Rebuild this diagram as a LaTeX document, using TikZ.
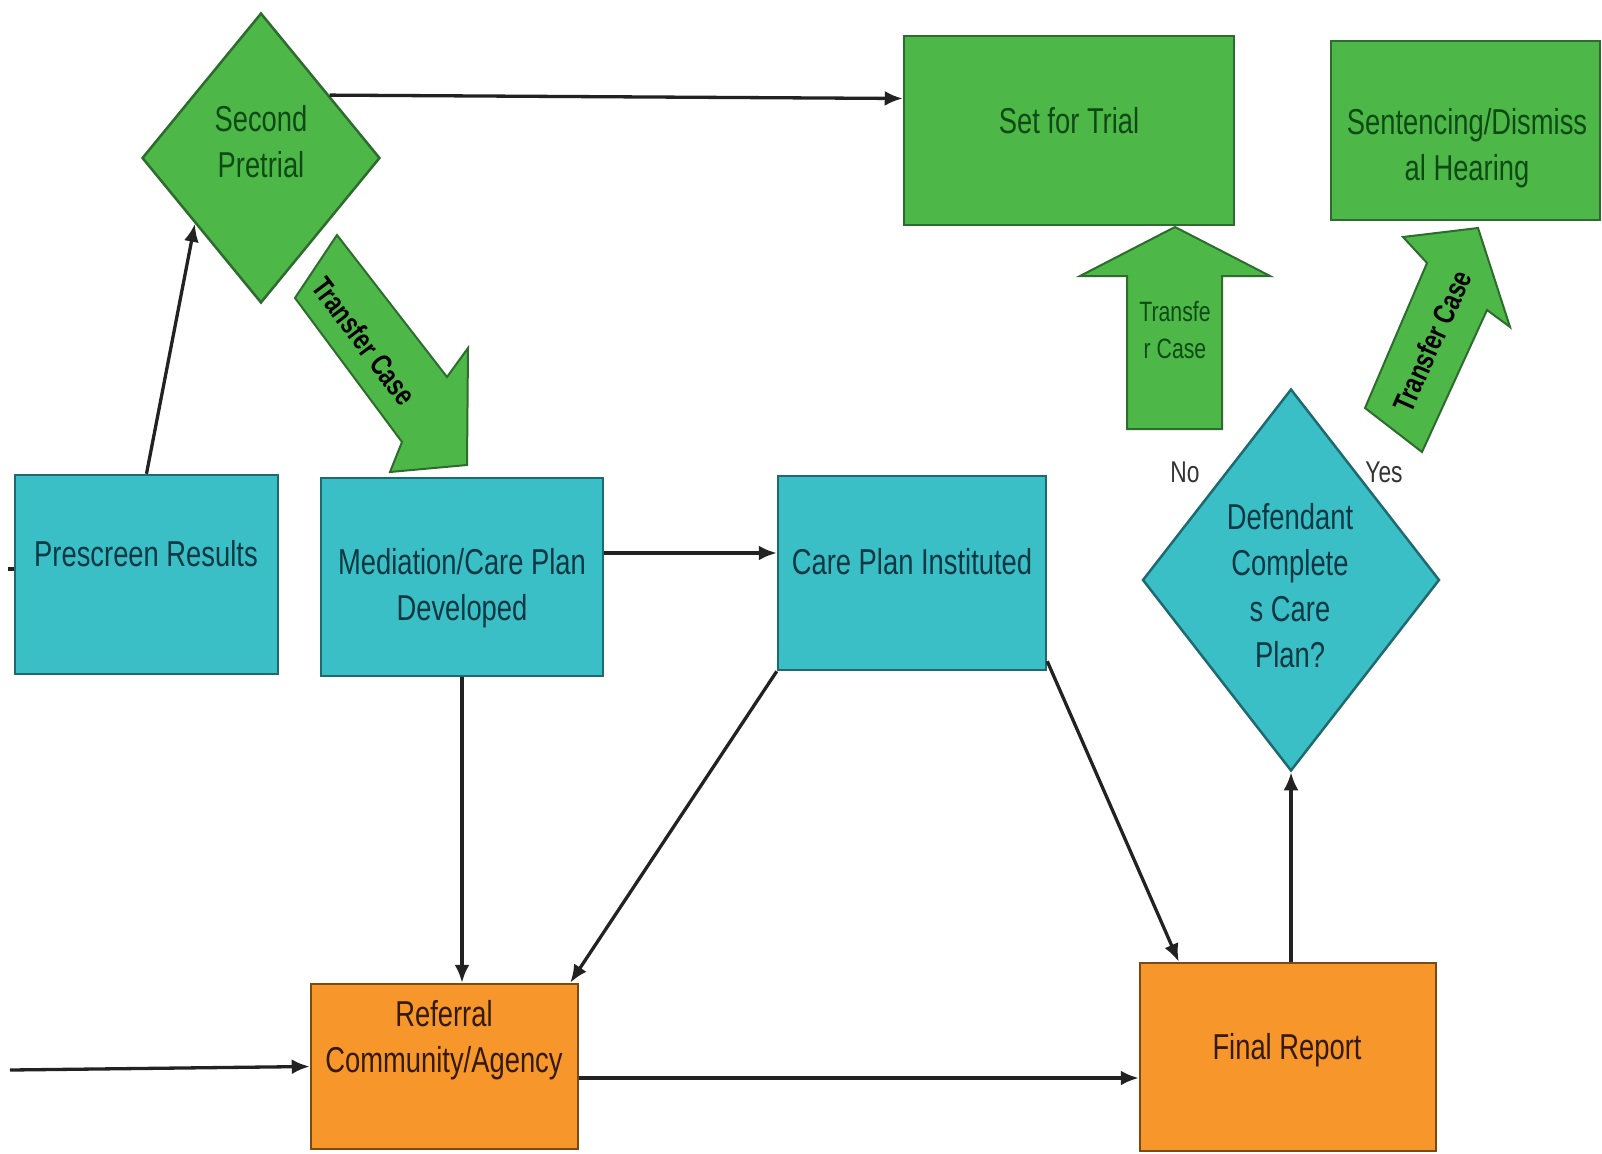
\documentclass[tikz,border=0pt]{standalone}
\usepackage{fontspec}
\setmainfont{Liberation Sans}[FakeStretch=0.76]
\usetikzlibrary{shapes.geometric,arrows.meta,calc}
\definecolor{grn}{HTML}{4DB848}
\definecolor{grnD}{HTML}{2E6B2E}
\definecolor{grnT}{HTML}{0F4A16}
\definecolor{tea}{HTML}{3BBFC6}
\definecolor{teaD}{HTML}{1F6A70}
\definecolor{teaT}{HTML}{0B3842}
\definecolor{org}{HTML}{F7962A}
\definecolor{orgD}{HTML}{7A4A12}
\definecolor{orgT}{HTML}{331A00}
\definecolor{lin}{HTML}{222222}
\begin{document}
\begin{tikzpicture}[x=1pt,y=-1pt,
  gbox/.style={draw=grnD,fill=grn,line width=2.5pt,inner sep=0pt},
  tbox/.style={draw=teaD,fill=tea,line width=2.5pt,inner sep=0pt},
  obox/.style={draw=orgD,fill=org,line width=2.5pt,inner sep=0pt},
  bigtxt/.style={align=center,inner sep=0pt,font=\fontsize{36}{46}\selectfont},
  gtxt/.style={bigtxt,text=grnT},
  ttxt/.style={bigtxt,text=teaT},
  otxt/.style={bigtxt,text=orgT},
  arrtxt/.style={align=center,inner sep=0pt,text=black,font=\bfseries\fontsize{30}{36}\selectfont},
  blockarrow/.style={draw=grnD,fill=grn,line width=2pt,line join=miter},
  conn/.style={draw=lin,line width=3.3pt,-{Latex[length=18pt,width=15pt]}},
]
\useasboundingbox (0,0) rectangle (1602,1153);

% shapes
\node[gbox,diamond,minimum width=238pt,minimum height=290pt] (sp) at (261,158) {};
\node[gbox,minimum width=330pt,minimum height=189pt] (st) at (1069,130.5) {};
\node[gbox,minimum width=269pt,minimum height=179pt] (sd) at (1465.5,130.5) {};
\node[tbox,minimum width=263pt,minimum height=199pt] (ps) at (146.5,574.5) {};
\node[tbox,minimum width=282pt,minimum height=198pt] (med) at (462,577) {};
\node[tbox,minimum width=268pt,minimum height=194pt] (cp) at (912,573) {};
\node[tbox,diamond,minimum width=297pt,minimum height=382pt] (def) at (1291,580) {};
\node[obox,minimum width=267pt,minimum height=165pt] (ref) at (444.5,1066.5) {};
\node[obox,minimum width=296pt,minimum height=188pt] (fr) at (1288,1057) {};

% texts
\node[gtxt] (tsp) at (261,141.5) {Second\\Pretrial};
\node[gtxt] (tst) at (1069,121) {Set for Trial};
\node[gtxt] (tsd) at (1467,148) {Sentencing/Dismiss\\al Hearing};
\node[ttxt] (tps) at (146,554) {Prescreen Results};
\node[ttxt] (tmed) at (462,588) {Mediation/Care Plan\\Developed};
\node[ttxt] (tcp) at (912,562) {Care Plan Instituted};
\node[ttxt] (tdef) at (1290,586) {Defendant\\Complete\\s Care\\Plan?};
\node[otxt] (tref) at (444,1040) {Referral\\Community/Agency};
\node[otxt] (tfr) at (1287,1050) {Final Report};

% block arrows
\draw[blockarrow] (337,235) -- (447,377) -- (468,348) -- (467,465) -- (390,472) -- (402,442) -- (295,298) -- cycle;
\node[arrtxt,rotate=-53] (ba1) at (364,341) {Transfer Case};
\draw[blockarrow] (1175,227) -- (1270,276) -- (1222,276) -- (1222,429) -- (1127,429) -- (1127,276) -- (1080,276) -- cycle;
\node[align=center,inner sep=0pt,text=grnT,font=\fontsize{28}{37}\selectfont] (ba2) at (1175,330) {Transfe\\r Case};
\draw[blockarrow] (1365,408) -- (1422,452) -- (1487,310) -- (1510,327) -- (1478,228) -- (1403,237) -- (1427,263) -- cycle;
\node[arrtxt,rotate=66] (ba3) at (1432,341) {Transfer Case};

\node[inner sep=0pt,text=black!80,font=\fontsize{30}{36}\selectfont] (no) at (1185,472) {No};
\node[inner sep=0pt,text=black!80,font=\fontsize{30}{36}\selectfont] (yes) at (1384,472) {Yes};

% connectors
\coordinate (y553) at (0,553);
\coordinate (y1078) at (0,1078);
\coordinate (in1) at (10,1070);
\coordinate (in2) at (8,569);

\draw[conn] ($(sp.north)!0.57!(sp.east)$) -- ([yshift=32pt]st.west);
\draw[conn] (ps.north) -- ($(sp.west)!0.45!(sp.south)$);
\draw[conn] (med.east |- y553) -- (cp.west |- y553);
\draw[conn] (med.south) -- (med.south |- ref.north);
\draw[conn] (cp.south west) -- ([xshift=-9pt]ref.north east);
\draw[conn] ([yshift=10pt]cp.south east) -- ([xshift=40pt]fr.north west);
\draw[conn] (fr.north -| def.south) -- (def.south);
\draw[conn] (ref.east |- y1078) -- (fr.west |- y1078);
\draw[conn] (in1) -- (ref.west);
\draw[draw=lin,line width=3.3pt] (in2) -- (ps.west |- in2);
\end{tikzpicture}
\end{document}
